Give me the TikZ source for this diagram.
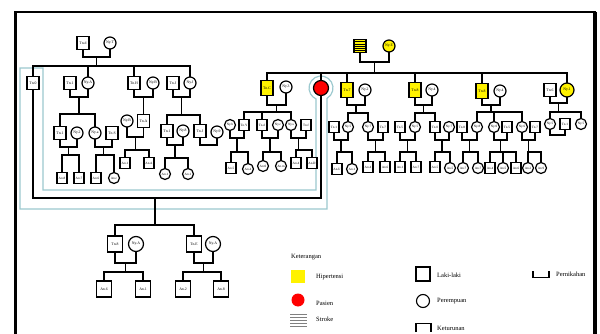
\documentclass[tikz,border=0pt]{standalone}
\usepackage{fontspec}
\setmainfont{Liberation Serif}
\usetikzlibrary{calc}
\definecolor{hl}{HTML}{9CC9CF}
\definecolor{hyel}{HTML}{FFF200}
\tikzset{
  ln/.style={line width=1.3pt, black, line cap=rect},
  lab/.style={font=\fontsize{3.8}{4}\selectfont},
  slab/.style={font=\fontsize{3.3}{3.5}\selectfont},
  mnode/.style={draw, line width=1.2pt, fill=white, rectangle, minimum width=12pt, minimum height=13pt, inner sep=0pt, lab},
  fnode/.style={draw, line width=1.2pt, fill=white, circle, minimum size=12pt, inner sep=0pt, lab},
  smm/.style={minimum width=10pt, minimum height=11pt, slab},
  sff/.style={minimum size=11pt, slab},
  bigm/.style={minimum width=15pt, minimum height=16pt},
  bigf/.style={minimum size=15pt},
  hyp/.style={fill=hyel},
  hlline/.style={draw=hl, line width=1.2pt},
  leg/.style={font=\fontsize{6.5}{7}\selectfont, inner sep=0pt, anchor=west}
}
\newcommand\wed[4]{\draw[ln] (#1.south) |- (#2.south |- 0,#3) -- (#2.south);
  \path (#1.south |- 0,#3) -- (#2.south |- 0,#3) coordinate[pos=0.5] (#4);}
\newcommand\kids[5]{\draw[ln] (#1) -- (#1 |- 0,#2);
  \draw[ln] (#3.north |- 0,#2) -- (#4.north |- 0,#2);
  \foreach \c in {#5} {\draw[ln] (\c.north |- 0,#2) -- (\c.north);}}
\begin{document}
\begin{tikzpicture}[x=1pt,y=-1pt]
\useasboundingbox (0,0) rectangle (600,334);
\fill[white] (0,0) rectangle (600,334);
% frame
\draw[line width=3pt] (15,334) -- (15,12);
\draw[line width=1.8pt] (14,12) -- (596,12);
\draw[line width=4pt] (595,12) -- (595,334);
% highlight outline
\draw[hlline] (43,68) -- (20,68) -- (20,209) -- (327,209) -- (327,98.4)
  arc[start angle=-60, end angle=245.4, radius=12pt] -- (316,190) -- (43,190) -- cycle;
% ---------------- left family ----------------
\node[mnode] (GA1) at (83,43) {Tn.d};
\node[fnode] (GA2) at (110,43) {Ny.T};
\node[mnode] (A0) at (33,83) {Tn.0};
\node[mnode] (A1) at (70,83) {Tn.1};
\node[fnode] (A2) at (88,83) {Ny.A};
\node[mnode] (A3) at (134,83) {Tn.H};
\node[fnode] (A4) at (153,83) {Ny.B};
\node[mnode] (A5) at (173,83) {Tn.J};
\node[fnode] (A6) at (190,83) {Ny.J};
\node[mnode] (B1) at (60,133) {Tn.1};
\node[fnode] (B2) at (77,133) {Ny.2};
\node[fnode] (B4) at (95,133) {Ny.a};
\node[mnode] (B5) at (112,133) {Tn.S};
\node[fnode] (B6) at (127,121) {Ny.B};
\node[mnode] (B7) at (143.5,121) {Tn.A};
\node[mnode] (B8) at (167,131) {Tn.1};
\node[fnode] (B9) at (183,131) {Ny.8};
\node[mnode] (B10) at (200,131) {Tn.J};
\node[fnode] (B11) at (217,132) {Ny.9};
\node[mnode,smm] (C1) at (62,178) {An.8};
\node[mnode,smm] (C2) at (79,178) {An.7};
\node[mnode,smm] (C3) at (96,178) {An.6};
\node[fnode,sff] (C4) at (114,178) {An.c};
\node[mnode,smm] (C5) at (125,163) {An.1};
\node[mnode,smm] (C6) at (149,163) {An.A};
\node[fnode,sff] (C7) at (165,174) {An.1};
\node[fnode,sff] (C8) at (188,174) {An.1};
\wed{GA1}{GA2}{57}{mGA}
\kids{mGA}{66}{A0}{A6}{A0,A2,A3,A6}
\wed{A1}{A2}{97}{mA12}
\kids{mA12}{114}{B1}{B4}{B1,B4}
\wed{B1}{B2}{147}{mB12}
\kids{mB12}{155}{C1}{C2}{C1,C2}
\wed{B4}{B5}{147}{mB45}
\kids{mB45}{155}{C3}{C4}{C3,C4}
\wed{A3}{A4}{97}{mA34}
\draw[ln] (mA34) -- (B7.north);
\wed{B6}{B7}{137}{mB67}
\kids{mB67}{150}{C5}{C6}{C5,C6}
\wed{A5}{A6}{97}{mA56}
\kids{mA56}{115}{B8}{B10}{B8,B10}
\wed{B8}{B9}{145}{mB89}
\kids{mB89}{158}{C7}{C8}{C7,C8}
\wed{B10}{B11}{145}{mB1011}
% ---------------- right family ----------------
\node[mnode, hyp, path picture={\foreach \k in {-4.5,-2.25,0,2.25,4.5} \draw[line width=0.4pt] ([yshift=\k pt]path picture bounding box.west) -- ([yshift=\k pt]path picture bounding box.east);}] (GB1) at (360,46) {};
\node[fnode, hyp] (GB2) at (389,46) {Ny.E};
\node[mnode, hyp, minimum height=15pt] (D1) at (267,88) {Tn.C};
\node[fnode] (D2) at (286,87) {Ny.3};
\node[fnode, fill=red, minimum size=15pt] (P) at (321,88) {};
\node[mnode, hyp, minimum height=15pt] (D3) at (347,90) {Tn.7};
\node[fnode] (D4) at (365,90) {Ny.2};
\node[mnode, hyp, minimum height=15pt] (D5) at (415,90) {Tn.8};
\node[fnode] (D6) at (432,90) {Ny.4};
\node[mnode, hyp, minimum height=15pt] (D7) at (482,91) {Tn.8};
\node[fnode] (D8) at (500,91) {Ny.4};
\node[mnode] (D9) at (550,90) {Tn.6};
\node[fnode, hyp, minimum size=14pt] (D10) at (567,90) {Ny.1};
\node[fnode,sff] (E1) at (230,125) {Ny.b};
\node[mnode,smm] (E2) at (244,125) {Tn.Y};
\node[mnode,smm] (E3) at (262,125) {Tn.d};
\node[fnode,sff] (E4) at (278,125) {Ny.c};
\node[fnode,sff] (E5) at (291,125) {Ny.s};
\node[mnode,smm] (E6) at (306,125) {Tn.f};
\node[mnode,smm] (F1) at (231,168) {An.5};
\node[fnode,sff] (F2) at (248,169) {An.4};
\node[fnode,sff] (F3) at (263,166) {An.0};
\node[fnode,sff] (F4) at (281,166) {An.m};
\node[mnode,smm] (F5) at (296,163) {An.4};
\node[mnode,smm] (F6) at (312,163) {An.D};
\node[mnode,smm] (G1) at (334,127) {Tn.1};
\node[fnode,sff] (G2) at (348,127) {Ny.5};
\node[fnode,sff] (G3) at (368,127) {Ny.7};
\node[mnode,smm] (G4) at (383,127) {Tn.7};
\node[mnode,smm] (G5) at (400,127) {Tn.5};
\node[fnode,sff] (G6) at (415,127) {Ny.5};
\node[mnode,smm] (G7) at (435,127) {Tn.0};
\node[fnode,sff] (G8) at (449,127) {Ny.7};
\node[mnode,smm] (J1) at (462,127) {Tn.8};
\node[fnode,sff] (J2) at (477,127) {Ny.8};
\node[fnode,sff] (J3) at (494,127) {Ny.0};
\node[mnode,smm] (J4) at (507,127) {Tn.5};
\node[fnode,sff] (J5) at (522,127) {Ny.6};
\node[mnode,smm] (J6) at (535,127) {Tn.7};
\node[fnode,sff] (K1) at (550,124) {Ny.5};
\node[mnode,smm] (K2) at (565,124) {Tn.1};
\node[fnode,sff] (K3) at (581,124) {Ny.5};
\node[mnode,smm] (H1) at (337,169) {An.U};
\node[fnode,sff] (H2) at (352,169) {An.1};
\node[mnode,smm] (H3) at (368,167) {An.4};
\node[mnode,smm] (H4) at (385,167) {An.6};
\node[mnode,smm] (H5) at (400,167) {An.1};
\node[mnode,smm] (H6) at (416,167) {An.7};
\node[mnode,smm] (H7) at (435,167) {An.5};
\node[fnode,sff] (H8) at (450,168) {An.5};
\node[fnode,sff] (H9) at (463,168) {An.7};
\node[fnode,sff] (H10) at (478,168) {An.7};
\node[mnode,smm] (H11) at (490,168) {An.4};
\node[fnode,sff] (H12) at (503,168) {An.5};
\node[mnode,smm] (H13) at (516,168) {An.6};
\node[fnode,sff] (H14) at (528,168) {An.2};
\node[fnode,sff] (H15) at (541,168) {An.9};
\wed{GB1}{GB2}{62}{mGB}
\kids{mGB}{73}{D1}{D10}{D1,P,D3,D5,D7,D10}
\wed{D1}{D2}{105}{mD12}
\kids{mD12}{112}{E2}{E5}{E2,E3,E5}
\wed{E1}{E2}{138}{mE12}
\kids{mE12}{152}{F1}{F2}{F1,F2}
\wed{E3}{E4}{138}{mE34}
\kids{mE34}{152}{F3}{F4}{F3,F4}
\wed{E5}{E6}{138}{mE56}
\kids{mE56}{150}{F5}{F6}{F5,F6}
\wed{D3}{D4}{105}{mD34}
\kids{mD34}{113}{G2}{G3}{G2,G3}
\wed{G1}{G2}{140}{mG12}
\kids{mG12}{152}{H1}{H2}{H1,H2}
\wed{G3}{G4}{140}{mG34}
\kids{mG34}{152}{H3}{H4}{H3,H4}
\wed{D5}{D6}{105}{mD56}
\kids{mD56}{113}{G6}{G7}{G6,G7}
\wed{G5}{G6}{140}{mG56}
\kids{mG56}{152}{H5}{H6}{H5,H6}
\wed{G7}{G8}{140}{mG78}
\kids{mG78}{152}{H7}{H8}{H7,H8}
\wed{D7}{D8}{105}{mD78}
\kids{mD78}{112}{J2}{J5}{J2,J3,J5}
\wed{J1}{J2}{140}{mJ12}
\kids{mJ12}{152}{H9}{H10}{H9,H10}
\wed{J3}{J4}{140}{mJ34}
\kids{mJ34}{152}{H11}{H13}{H11,H12,H13}
\wed{J5}{J6}{140}{mJ56}
\kids{mJ56}{152}{H14}{H15}{H14,H15}
\wed{D9}{D10}{103}{mD910}
\kids{mD910}{112}{K1}{K3}{K1,K3}
\wed{K1}{K2}{135}{mK12}
% ---------------- patient marriage & descendants ----------------
\draw[ln] (P.south) |- (A0.south |- 0,198) -- (A0.south);
\coordinate (mPA) at (155,198);
\node[mnode,bigm] (L1) at (115,244) {Tn.8};
\node[fnode,bigf] (L2) at (136,244) {Ny.A};
\node[mnode,bigm] (L3) at (194,244) {Tn.E};
\node[fnode,bigf] (L4) at (213,244) {Ny.A};
\node[mnode,bigm] (M1) at (104,289) {An.6};
\node[mnode,bigm] (M2) at (143,289) {An.1};
\node[mnode,bigm] (M3) at (183,289) {An.2};
\node[mnode,bigm] (M4) at (221,289) {An.8};
\kids{mPA}{225}{L1}{L3}{L1,L3}
\wed{L1}{L2}{263}{mL12}
\kids{mL12}{272}{M1}{M2}{M1,M2}
\wed{L3}{L4}{263}{mL34}
\kids{mL34}{272}{M3}{M4}{M3,M4}
% ---------------- legend ----------------
\node[leg] (kt) at (291,257) {Keterangan};
\node[fill=hyel, minimum width=14pt, minimum height=13pt, inner sep=0pt] (lgh) at (298,276.5) {};
\node[leg] (lht) at (316,277) {Hipertensi};
\node[circle, fill=red, minimum size=13pt, inner sep=0pt] (lgp) at (298,300) {};
\node[leg] (lpt) at (316,303) {Pasien};
\foreach \yy in {314,317,320,323,326} \draw[gray, line width=0.6pt] (290,\yy) -- (307,\yy);
\node[leg] (lst) at (316,319) {Stroke};
\node[draw, line width=1.1pt, minimum width=14pt, minimum height=14pt, inner sep=0pt] (lgm) at (423,274) {};
\node[leg] (llk) at (437,275) {Laki-laki};
\node[draw, circle, line width=1.1pt, minimum size=13pt, inner sep=0pt] (lgf) at (423,301) {};
\node[leg] (lpr) at (437,301) {Perempuan};
\draw[line width=1.1pt] (416,332) -- (416,323.5) -- (431,323.5) -- (431,332);
\node[leg] (lkt) at (437,328) {Keturunan};
\draw[line width=1.1pt] (533,271) -- (533,277.5) -- (549,277.5) -- (549,271);
\node[leg] (lpn) at (556,274) {Pernikahan};
\end{tikzpicture}
\end{document}
